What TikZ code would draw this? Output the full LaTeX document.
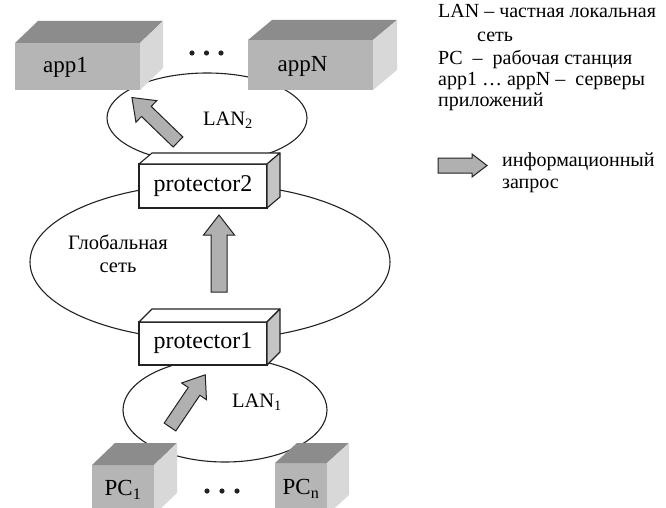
\documentclass[tikz,border=0pt]{standalone}
\usepackage{fontspec}
\setmainfont{Liberation Serif}
\usetikzlibrary{calc}
\definecolor{gtop}{HTML}{8C8C8C}
\definecolor{gfront}{HTML}{B5B5B5}
\definecolor{gside}{HTML}{D8D8D8}
\definecolor{pside}{HTML}{C4C4C4}
\definecolor{arrfill}{HTML}{B0B0B0}
\definecolor{ink}{HTML}{222222}
\newcommand\boxfaces[4]{%
  \path[#4top] (#1.north west) -- ($(#1.north west)+(#2,#3)$) -- ($(#1.north east)+(#2,#3)$) -- (#1.north east) -- cycle;
  \path[#4side] (#1.north east) -- ($(#1.north east)+(#2,#3)$) -- ($(#1.south east)+(#2,#3)$) -- (#1.south east) -- cycle;
}
\begin{document}
\begin{tikzpicture}[x=1pt,y=-1pt,
  net/.style={draw=ink, line width=1.1pt},
  appfront/.style={fill=gfront, inner sep=0pt, outer sep=0pt, font=\fontsize{23}{26}\selectfont},
  apptop/.style={fill=gtop},
  appside/.style={fill=gside},
  protfront/.style={draw=ink, fill=white, line width=1.1pt, inner sep=0pt, outer sep=0pt, font=\fontsize{24}{27}\selectfont},
  prottop/.style={draw=ink, fill=white, line width=1.1pt, line join=round},
  protside/.style={draw=ink, fill=pside, line width=1.1pt, line join=round},
  lbl/.style={font=\fontsize{20.5}{23}\selectfont, inner sep=0pt},
  legend/.style={font=\fontsize{20}{22}\selectfont, inner sep=0pt, anchor=west, text height=0.7em, text depth=0.2em},
  arrowbody/.style={draw=ink, fill=arrfill, line width=1pt, line join=miter},
  pics/fatarrow/.style n args={4}{code={%
    \path[arrowbody] (0,-#2) -- ({#1-#4},-#2) -- ({#1-#4},-#3) -- (#1,0) -- ({#1-#4},#3) -- ({#1-#4},#2) -- (0,#2) -- cycle;}},
  dot/.style={fill=ink, draw=none}
]
\useasboundingbox (0,0) rectangle (666,508);

% networks
\draw[net] (207,118) ellipse [x radius=100, y radius=45];
\draw[net] (210,262) ellipse [x radius=180, y radius=78];
\draw[net] (225,410) ellipse [x radius=102, y radius=52];

\node[lbl] (lan2) at (228,120) {LAN\textsubscript{2}};
\node[lbl, align=center] (glob) at (118,254) {Глобальная\\сеть};
\node[lbl] (lan1) at (257,402) {LAN\textsubscript{1}};

% application servers
\node[appfront, minimum width=125pt, minimum height=47pt] (app1) at (77.5,66.5) {};
\boxfaces{app1}{23}{-22}{app}
\node[appfront, fill=none] at ($(app1.center)+(-12,1)$) {app1};
\node[appfront, minimum width=125pt, minimum height=50pt] (appN) at (310.5,65) {};
\boxfaces{appN}{24}{-20}{app}
\node[appfront, fill=none] at ($(appN.center)+(-8,1)$) {appN};

\fill[dot] (192,53) circle (2.6);
\fill[dot] (206.5,53) circle (2.6);
\fill[dot] (221,53) circle (2.6);

% protectors
\node[protfront, minimum width=128pt, minimum height=44pt] (prot2) at (203,186) {protector2};
\boxfaces{prot2}{13}{-11}{prot}
\node[protfront, minimum width=128pt, minimum height=43pt] (prot1) at (203,343.5) {protector1};
\boxfaces{prot1}{13}{-13}{prot}

% workstations
\node[appfront, minimum width=62pt, minimum height=50pt] (pc1) at (123,490) {PC\textsubscript{1}};
\boxfaces{pc1}{23}{-22}{app}
\node[appfront, minimum width=52pt, minimum height=52pt] (pcn) at (301,489) {PC\textsubscript{n}};
\boxfaces{pcn}{22}{-20}{app}

\fill[dot] (207,491) circle (2.6);
\fill[dot] (222,491) circle (2.6);
\fill[dot] (237,491) circle (2.6);

% information requests
\coordinate (a1tail) at (170,427);
\coordinate (a2tail) at (219,292);
\coordinate (a3tail) at (178,142);
\pic[rotate=56] at (a1tail) {fatarrow={63}{7}{15}{20}};
\pic[rotate=90] at (a2tail) {fatarrow={77}{8}{15.5}{20}};
\pic[rotate=136] at (a3tail) {fatarrow={64}{7}{15}{20}};

% legend
\node[legend] (l1) at (438,15) {LAN – частная локальная};
\node[legend] (l2) at (477,39) {сеть};
\node[legend] (l3) at (438,62) {PC \ – \ рабочая станция};
\node[legend] (l4) at (438,83) {app1 … appN – \ серверы};
\node[legend] (l5) at (438,104) {приложений};
\coordinate (legarrow) at (438,165.5);
\pic at (legarrow) {fatarrow={49}{7.5}{11.5}{15}};
\node[legend] (l6) at (502,164) {информационный};
\node[legend] (l7) at (502,186) {запрос};
\end{tikzpicture}
\end{document}
